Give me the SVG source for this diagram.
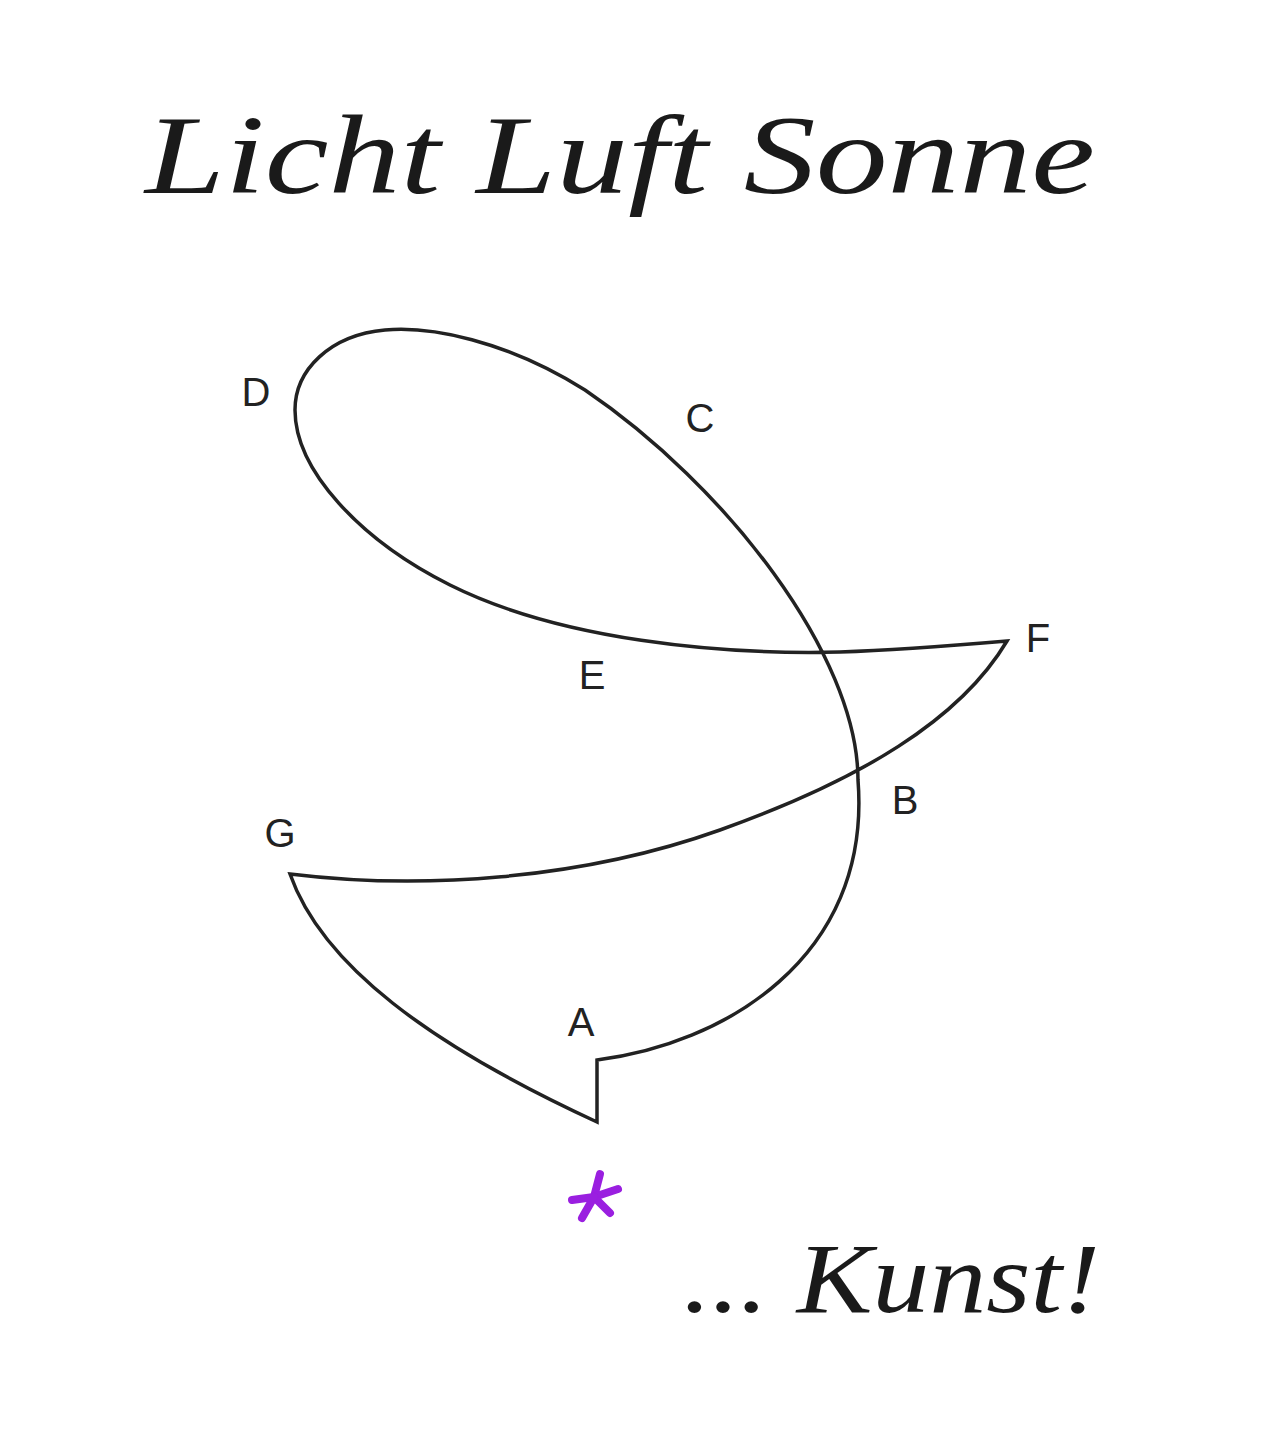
<svg xmlns="http://www.w3.org/2000/svg" width="1280" height="1429" viewBox="0 0 1280 1429">
<style>
.title{font-family:"Liberation Serif","DejaVu Serif",serif;font-style:italic;fill:#1a1a1a}
.lbl{font-family:"Liberation Sans",Arial,sans-serif;font-size:40px;fill:#222;text-anchor:middle}
.curve{fill:none;stroke:#222;stroke-width:3.5;stroke-linejoin:miter}
.star{stroke:#9a1fe0;stroke-width:8;stroke-linecap:round}
</style>
<rect width="1280" height="1429" fill="#fff"/>
<g id="title"><text class="title" x="145" y="193" font-size="112" textLength="950" lengthAdjust="spacingAndGlyphs">Licht Luft Sonne</text></g>
<g id="connectors">
<path class="curve" d="M 597 1060 C 720 1045, 872 960, 858 780 C 858 655, 725 485, 585 390 C 505 340, 430 326, 385 330 C 330 335, 295 370, 295 410 C 295 470, 360 540, 450 585 C 560 640, 720 655, 840 652 C 900 650, 960 645, 1007 641 C 960 720, 860 780, 720 830 C 580 880, 420 890, 290 874 C 322 965, 430 1045, 597 1122 Z"/>
</g>
<g id="node-D"><text class="lbl" x="256" y="406">D</text></g>
<g id="node-C"><text class="lbl" x="700" y="432">C</text></g>
<g id="node-E"><text class="lbl" x="592" y="689">E</text></g>
<g id="node-F"><text class="lbl" x="1038" y="652">F</text></g>
<g id="node-B"><text class="lbl" x="905" y="814">B</text></g>
<g id="node-G"><text class="lbl" x="280" y="847">G</text></g>
<g id="node-A"><text class="lbl" x="581" y="1036">A</text></g>
<g id="star">
<line class="star" x1="594" y1="1197" x2="600" y2="1174"/>
<line class="star" x1="594" y1="1197" x2="618" y2="1189"/>
<line class="star" x1="594" y1="1197" x2="610" y2="1213"/>
<line class="star" x1="594" y1="1197" x2="582" y2="1218"/>
<line class="star" x1="594" y1="1197" x2="572" y2="1200"/>
</g>
<g id="kunst"><text class="title" x="683" y="1312" font-size="100" textLength="417" lengthAdjust="spacingAndGlyphs">... Kunst!</text></g>
</svg>
